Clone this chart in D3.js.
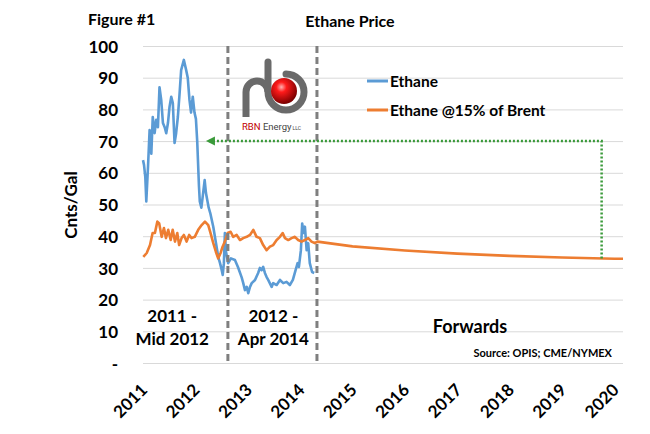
<!DOCTYPE html>
<html>
<head>
<meta charset="utf-8">
<script src="https://cdn.jsdelivr.net/npm/d3@7"></script>
<style>
  body { margin: 0; background: #fff; }
  svg { display: block; font-family: Lato, "Open Sans", sans-serif; font-weight: bold; }
</style>
</head>
<body>
<svg id="chart" width="650" height="434"></svg>
<script>
const years = [2011, 2012, 2013, 2014, 2015, 2016, 2017, 2018, 2019, 2020];
const yTicks = [0, 10, 20, 30, 40, 50, 60, 70, 80, 90, 100];

// Mont Belvieu ethane, cnts/gal
const ethane = [
  ["2011-01-01", 64], ["2011-01-08", 62.5], ["2011-01-17", 58.7], ["2011-01-24", 51],
  ["2011-02-05", 62], ["2011-02-16", 73.5], ["2011-02-28", 66], ["2011-03-10", 77.6],
  ["2011-03-23", 72.5], ["2011-04-03", 76.7], ["2011-04-15", 74.4], ["2011-04-26", 87],
  ["2011-05-08", 83], ["2011-05-20", 75.7], ["2011-06-01", 74.4], ["2011-06-12", 72.5],
  ["2011-06-24", 75.7], ["2011-07-05", 80.8], ["2011-07-17", 84], ["2011-07-28", 82],
  ["2011-08-09", 69.4], ["2011-08-20", 72.5], ["2011-09-01", 77.6], ["2011-09-13", 85],
  ["2011-09-24", 92.4], ["2011-10-13", 95.6], ["2011-10-29", 92.4], ["2011-11-09", 90],
  ["2011-11-21", 83], ["2011-12-02", 79], ["2011-12-14", 84], ["2011-12-26", 79],
  ["2012-01-05", 77], ["2012-01-14", 70], ["2012-01-20", 63], ["2012-01-26", 56],
  ["2012-02-01", 51], ["2012-02-12", 49], ["2012-02-20", 52], ["2012-03-06", 57.7],
  ["2012-03-15", 53.6], ["2012-04-03", 49], ["2012-04-14", 47.3], ["2012-05-05", 43],
  ["2012-05-24", 37.8], ["2012-06-09", 33.4], ["2012-06-21", 31.5], ["2012-07-03", 29.3],
  ["2012-07-10", 27.8], ["2012-07-18", 31.5], ["2012-07-25", 41], ["2012-08-02", 35],
  ["2012-08-17", 31.5], ["2012-09-05", 33], ["2012-10-03", 32.5], ["2012-10-24", 30.3],
  ["2012-11-19", 27], ["2012-11-30", 25.2], ["2012-12-12", 23], ["2012-12-24", 24],
  ["2013-01-04", 22], ["2013-01-16", 24], ["2013-01-28", 25.2], ["2013-02-20", 26.2],
  ["2013-03-14", 28.4], ["2013-03-26", 30], ["2013-04-07", 29.3], ["2013-04-18", 30.3],
  ["2013-04-30", 28.4], ["2013-05-12", 27.1], ["2013-05-23", 26.2], ["2013-06-16", 24],
  ["2013-06-27", 25.2], ["2013-07-21", 24.6], ["2013-08-13", 26.2], ["2013-09-05", 25.2],
  ["2013-09-28", 25.6], ["2013-10-21", 24.6], ["2013-11-11", 26.2], ["2013-11-30", 29.3],
  ["2013-12-14", 31.5], ["2013-12-23", 30.3], ["2014-01-06", 35.6], ["2014-01-15", 44],
  ["2014-01-25", 41], ["2014-02-03", 43], ["2014-02-15", 35.6], ["2014-02-26", 37.8],
  ["2014-03-09", 31.5], ["2014-03-25", 28.7], ["2014-04-09", 28.4]
];

// ethane valued at 15% of Brent, history
const brentHist = [
  ["2011-01-03", 33.5], ["2011-01-27", 34.7], ["2011-02-19", 37.2], ["2011-03-09", 41],
  ["2011-03-25", 41], ["2011-04-11", 44.6], ["2011-04-24", 44], ["2011-05-11", 39.8],
  ["2011-05-27", 42.6], ["2011-06-10", 39.4], ["2011-06-26", 42], ["2011-07-13", 38.8],
  ["2011-07-27", 42], ["2011-08-12", 38.3], ["2011-08-28", 41], ["2011-09-10", 37.2],
  ["2011-09-27", 39.4], ["2011-10-13", 40.4], ["2011-11-01", 38.3], ["2011-11-19", 40.4],
  ["2011-12-05", 39.4], ["2011-12-28", 39.8], ["2012-01-21", 42], ["2012-02-14", 43.5],
  ["2012-03-08", 44.6], ["2012-03-31", 43.5], ["2012-04-16", 41], ["2012-05-05", 37.8],
  ["2012-05-23", 35.1], ["2012-06-08", 33], ["2012-06-25", 34.7], ["2012-07-09", 36.7],
  ["2012-07-25", 38.3], ["2012-08-13", 41], ["2012-09-03", 41.4], ["2012-09-21", 39.8],
  ["2012-10-15", 40.4], ["2012-11-07", 38.8], ["2012-11-30", 39.4], ["2012-12-24", 39.8],
  ["2013-01-16", 40.4], ["2013-02-08", 42], ["2013-03-03", 39.8], ["2013-03-26", 39.4],
  ["2013-04-18", 37.2], ["2013-05-12", 35.6], ["2013-06-04", 36.7], ["2013-06-27", 37.2],
  ["2013-07-21", 38.8], ["2013-08-13", 39.8], ["2013-09-01", 41], ["2013-09-17", 39.4],
  ["2013-10-10", 38.8], ["2013-11-02", 39.4], ["2013-11-25", 39.8], ["2013-12-18", 38.8],
  ["2014-01-11", 38.3], ["2014-02-03", 38.8], ["2014-02-26", 39.4], ["2014-03-21", 38.3],
  ["2014-04-13", 37.8]
];

// forward curve
const brentFwd = [
  ["2014-05-01", 38.3], ["2015-01-01", 36.8], ["2016-01-01", 35.5], ["2017-01-01", 34.5],
  ["2018-01-01", 33.8], ["2019-01-01", 33.3], ["2020-01-01", 32.9], ["2020-03-01", 32.9]
];

const periodBreaks = ["2012-08-15", "2014-04-28"];
const periodNotes = [
  { date: "2011-07-24", lines: ["2011 -", "Mid 2012"] },
  { date: "2013-06-28", lines: ["2012 -", "Apr 2014"] }
];
const arrowPts = [["2019-10-04", 33], ["2019-10-04", 70], ["2012-03-29", 70]];

const parse = d3.timeParse("%Y-%m-%d");
const svg = d3.select("#chart");

const x = d3.scaleTime()
  .domain([parse("2011-01-01"), parse("2020-03-01")])
  .range([143, 623]);
const y = d3.scaleLinear().domain([0, 100]).range([363, 46]);

// gridlines + y labels
const yAxis = svg.append("g")
  .attr("transform", "translate(143,0)")
  .call(d3.axisLeft(y).tickValues(yTicks).tickSize(-480)
    .tickFormat(d => d === 0 ? "-" : d));
yAxis.select(".domain").remove();
yAxis.selectAll(".tick line").attr("stroke", "#d9d9d9");
yAxis.selectAll(".tick text")
  .attr("x", -25).attr("dy", "0.36em")
  .style("font-size", "17px").style("font-family", "Lato, sans-serif")
  .style("font-weight", "bold").attr("fill", "#000");

// x labels
const xAxis = svg.append("g")
  .attr("transform", "translate(0,363)")
  .call(d3.axisBottom(x).tickValues(years.map(v => new Date(v, 0, 1)))
    .tickSize(0).tickFormat(d3.timeFormat("%Y")));
xAxis.select(".domain").remove();
xAxis.selectAll(".tick text")
  .attr("x", 0).attr("y", 0).attr("dy", 0)
  .attr("transform", "translate(5,28) rotate(-45)")
  .style("text-anchor", "end")
  .style("font-size", "17px").style("font-family", "Lato, sans-serif")
  .style("font-weight", "bold").attr("fill", "#000");

const line = d3.line()
  .x(d => x(parse(d[0])))
  .y(d => y(d[1]));

svg.append("path")
  .datum(ethane)
  .attr("fill", "none")
  .attr("stroke", "#5b9bd5")
  .attr("stroke-width", 2.6)
  .attr("stroke-linejoin", "round")
  .attr("d", line);

svg.append("path")
  .datum(brentHist.concat(brentFwd))
  .attr("fill", "none")
  .attr("stroke", "#ed7d31")
  .attr("stroke-width", 2.6)
  .attr("stroke-linejoin", "round")
  .attr("d", line);

// period separators
svg.selectAll(".brk")
  .data(periodBreaks)
  .enter().append("line")
  .attr("x1", d => x(parse(d))).attr("x2", d => x(parse(d)))
  .attr("y1", y(100)).attr("y2", y(0))
  .attr("stroke", "#7f7f7f")
  .attr("stroke-width", 3)
  .attr("stroke-dasharray", "7,4");

periodNotes.forEach(n => {
  const t = svg.append("text")
    .attr("x", x(parse(n.date)))
    .attr("text-anchor", "middle")
    .style("font-size", "17px");
  n.lines.forEach((s, i) => {
    t.append("tspan").attr("x", x(parse(n.date))).attr("y", 322 + i * 23).text(s);
  });
});

svg.append("text").attr("x", 470).attr("y", 333)
  .attr("text-anchor", "middle").style("font-size", "18px").text("Forwards");
svg.append("text").attr("x", 612).attr("y", 357)
  .attr("text-anchor", "end").style("font-size", "11px").text("Source: OPIS; CME/NYMEX");

// green arrow
svg.append("path")
  .datum(arrowPts)
  .attr("fill", "none")
  .attr("stroke", "#3a9a3a")
  .attr("stroke-width", 2.5)
  .attr("stroke-dasharray", "2,2")
  .attr("d", d3.line().x(d => x(parse(d[0]))).y(d => y(d[1])));
const tipX = x(parse(arrowPts[2][0])), tipY = y(arrowPts[2][1]);
svg.append("path")
  .attr("d", `M${tipX - 2},${tipY} L${tipX + 7},${tipY - 4.5} L${tipX + 7},${tipY + 4.5} Z`)
  .attr("fill", "#3a9a3a");

// titles
svg.append("text").attr("x", 88).attr("y", 25).style("font-size", "16px").text("Figure #1");
svg.append("text").attr("x", 350).attr("y", 27).attr("text-anchor", "middle")
  .style("font-size", "16px").text("Ethane Price");
svg.append("text")
  .attr("transform", "translate(77,205) rotate(-90)")
  .attr("text-anchor", "middle").style("font-size", "17px").text("Cnts/Gal");

// legend
const legend = [["Ethane", "#5b9bd5"], ["Ethane @15% of Brent", "#ed7d31"]];
legend.forEach((l, i) => {
  const ly = 81 + i * 29;
  svg.append("line").attr("x1", 367).attr("x2", 388).attr("y1", ly).attr("y2", ly)
    .attr("stroke", l[1]).attr("stroke-width", 3);
  svg.append("text").attr("x", 390).attr("y", ly).attr("dy", "0.36em")
    .style("font-size", "15.5px").text(l[0]);
});

// RBN logo
const defs = svg.append("defs");
const rg = defs.append("radialGradient").attr("id", "ball").attr("cx", "40%").attr("cy", "35%").attr("r", "65%");
rg.append("stop").attr("offset", "0%").attr("stop-color", "#ffb0b0");
rg.append("stop").attr("offset", "30%").attr("stop-color", "#ff1a1a");
rg.append("stop").attr("offset", "100%").attr("stop-color", "#7a0000");
const logo = svg.append("g");
const tube = "#6a6a6a";
logo.append("path")
  .attr("d", "M246,117 V92 A11,11 0 0 1 268,92")
  .attr("fill", "none").attr("stroke", tube).attr("stroke-width", 7);
logo.append("path")
  .attr("d", "M268,62 V92 A18,18 0 1 0 286,74")
  .attr("fill", "none").attr("stroke", tube).attr("stroke-width", 7)
  .attr("stroke-linecap", "round");
logo.append("circle").attr("cx", 284).attr("cy", 91).attr("r", 13).attr("fill", "url(#ball)");
const lt = logo.append("text").attr("x", 242).attr("y", 130)
  .style("font-family", "Roboto, sans-serif").style("font-weight", "normal").style("font-size", "9.5px");
lt.append("tspan").attr("fill", "#c00000").text("RBN ");
lt.append("tspan").attr("fill", "#444").text("Energy");
lt.append("tspan").attr("fill", "#444").style("font-size", "5px").attr("dx", 1).text("LLC");
</script>
</body>
</html>
